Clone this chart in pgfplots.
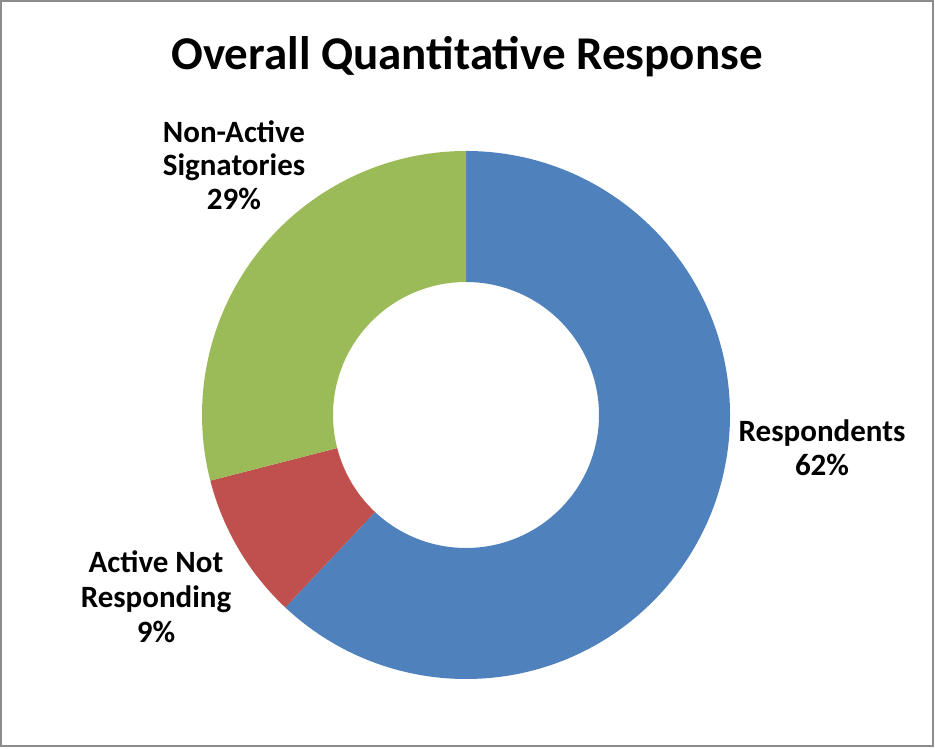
\documentclass[border=0pt]{standalone}
\usepackage{pgfplots}
\pgfplotsset{compat=1.18}
\usepackage{pgfplotstable}
\usepackage{fontspec}
\setmainfont{Carlito}

\definecolor{cResp}{HTML}{4F81BD}
\definecolor{cAct}{HTML}{C0504D}
\definecolor{cNon}{HTML}{9BBB59}

% share in percent, clockwise from 12 o'clock
\pgfplotstableread{
share colour
62 cResp
9  cAct
29 cNon
}\donutdata

\begin{document}
\begin{tikzpicture}
\begin{axis}[
    x=0.5pt, y=0.5pt,
    xmin=0, xmax=935, ymin=0, ymax=748,
    hide axis, clip=false,
]
    \path (axis cs:0,0) rectangle (axis cs:935,748);
    \draw[line width=1pt, color=black!45] (axis cs:1,2) rectangle (axis cs:933,747);

    \def\startang{90}
    \pgfplotsforeachungrouped \i in {0,1,2}{%
        \pgfplotstablegetelem{\i}{share}\of\donutdata \let\val\pgfplotsretval
        \pgfplotstablegetelem{\i}{colour}\of\donutdata \let\col\pgfplotsretval
        \pgfmathsetmacro\endang{\startang-3.6*\val}
        \edef\wedge{\noexpand\fill[\col] (axis cs:466,333) ++(\startang:132pt)
            arc[start angle=\startang, end angle=\endang, radius=132pt]
            -- ++(\endang:-65.5pt)
            arc[start angle=\endang, end angle=\startang, radius=66.5pt] -- cycle;}
        \wedge
        \global\let\startang\endang
    }

    \node[anchor=base, font=\fontsize{23.5}{28}\selectfont\bfseries] at (axis cs:467,678) {Overall Quantitative Response};

    \tikzset{lbl/.style={anchor=base, font=\fontsize{15.5}{17}\selectfont\bfseries}}
    \node[lbl] at (axis cs:822,306) {Respondents};
    \node[lbl] at (axis cs:822,272) {62\%};
    \node[lbl] at (axis cs:234,605) {Non-Active};
    \node[lbl] at (axis cs:234,572) {Signatories};
    \node[lbl] at (axis cs:234,538) {29\%};
    \node[lbl] at (axis cs:156,175) {Active Not};
    \node[lbl] at (axis cs:156,140) {Responding};
    \node[lbl] at (axis cs:156,105) {9\%};
\end{axis}
\end{tikzpicture}
\end{document}
